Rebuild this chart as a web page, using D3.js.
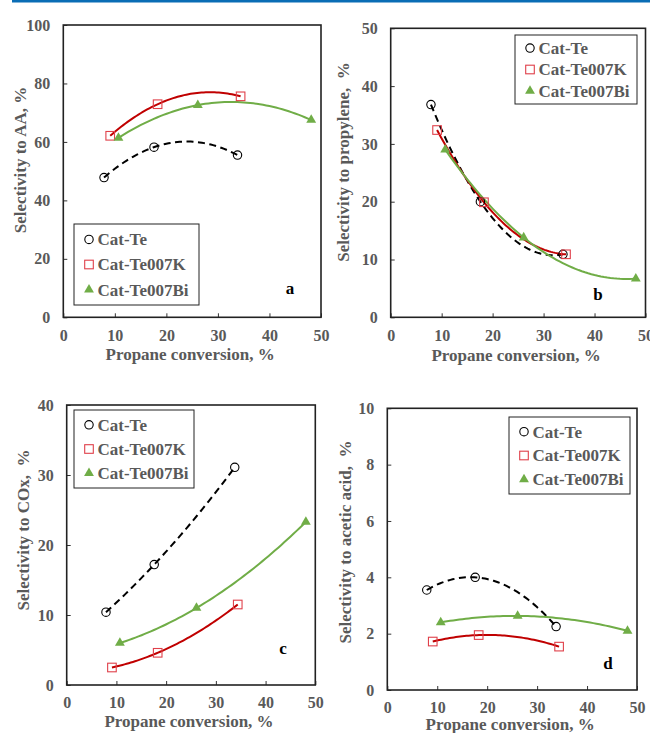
<!DOCTYPE html>
<html>
<head>
<meta charset="utf-8">
<script src="https://cdn.jsdelivr.net/npm/d3@7"></script>
<style>
  body { margin: 0; background: #fff; }
  svg { display: block; }
  svg text { font-family: "Liberation Serif", "Times New Roman", Times, serif !important; font-weight: bold; }
</style>
</head>
<body>
<script>
// propane conversion (%) for each catalyst
const convTe = [7.9, 17.6, 33.8];
const convK = [9.1, 18.3, 34.4];
const convBi = [10.7, 26.1, 48.1];

// selectivities (%)
const aaTe = [47.8, 58.2, 55.5];
const aaK = [62.1, 72.9, 75.6];
const aaBi = [61.4, 72.6, 67.5];

const propTe = [36.8, 20.0, 10.9];
const propK = [32.4, 19.9, 10.9];
const propBi = [29.0, 13.8, 6.7];

const coxTe = [10.4, 17.2, 31.1];
const coxK = [2.5, 4.6, 11.5];
const coxBi = [6.0, 11.0, 23.3];

const acTe = [3.55, 4.0, 2.25];
const acK = [1.72, 1.95, 1.54];
const acBi = [2.4, 2.63, 2.1];

const seriesNames = ["Cat-Te", "Cat-Te007K", "Cat-Te007Bi"];
const xTicks = [0, 10, 20, 30, 40, 50];

const W = 650, H = 733;
const grey = "#595959";

const svg = d3.select("body").append("svg")
    .attr("width", W)
    .attr("height", H);

svg.append("rect")
    .attr("x", 12).attr("y", 0)
    .attr("width", W - 12).attr("height", 2.5)
    .attr("fill", "#0a6db5");

const panels = [
  { letter: "a", ytitle: "Selectivity to AA, %", ymax: 100, ystep: 20,
    box: [63.3, 25, 321, 317.3], ys: [aaTe, aaK, aaBi],
    ytx: 20, yty: 160, xty: 354, legend: [74, 224, 125, 81], lab: [290, 288] },
  { letter: "b", ytitle: "Selectivity to propylene,  %", ymax: 50, ystep: 10,
    box: [390.7, 28.3, 645.5, 317.3], ys: [propTe, propK, propBi],
    ytx: 343, yty: 162, xty: 355, legend: [515, 35, 122, 69], lab: [598, 294] },
  { letter: "c", ytitle: "Selectivity to COx,  %", ymax: 40, ystep: 10,
    box: [66.7, 405, 315.3, 685], ys: [coxTe, coxK, coxBi],
    ytx: 23, yty: 530, xty: 721, legend: [74, 410, 120, 78], lab: [283, 648] },
  { letter: "d", ytitle: "Selectivity to acetic acid,  %", ymax: 10, ystep: 2,
    box: [387.3, 408.3, 637, 690], ys: [acTe, acK, acBi],
    ytx: 345, yty: 542, xty: 724, legend: [509, 417, 121, 77], lab: [608, 663] }
];

const convs = [convTe, convK, convBi];
const styles = [
  { stroke: "#000", dash: "7,4.5", marker: "circle", mcol: "#000" },
  { stroke: "#c00000", dash: null, marker: "square", mcol: "#e0404a" },
  { stroke: "#70ad47", dash: null, marker: "triangle", mcol: "#70ad47" }
];

// quadratic trendline through the three points (Lagrange form)
function quad(xs, ys) {
  return function(t) {
    let s = 0;
    for (let i = 0; i < 3; i++) {
      let p = ys[i];
      for (let j = 0; j < 3; j++) if (j != i) p *= (t - xs[j]) / (xs[i] - xs[j]);
      s += p;
    }
    return s;
  };
}

function marker(g, type, col, cx, cy) {
  if (type == "circle") {
    g.append("circle").attr("cx", cx).attr("cy", cy).attr("r", 4.2)
      .attr("fill", "none").attr("stroke", col).attr("stroke-width", 1.1);
  } else if (type == "square") {
    g.append("rect").attr("x", cx - 4.3).attr("y", cy - 4.3)
      .attr("width", 8.6).attr("height", 8.6)
      .attr("fill", "none").attr("stroke", col).attr("stroke-width", 1.1);
  } else {
    g.append("path").attr("d", d3.symbol(d3.symbolTriangle, 42)())
      .attr("transform", "translate(" + cx + "," + cy + ")")
      .attr("fill", col);
  }
}

panels.forEach(function(p) {
  const [x0, y0, x1, y1] = p.box;
  const x = d3.scaleLinear().domain([0, 50]).range([x0, x1]);
  const y = d3.scaleLinear().domain([0, p.ymax]).range([y1, y0]);
  const g = svg.append("g");

  const yax = g.append("g")
      .attr("transform", "translate(" + x0 + ",0)")
      .call(d3.axisLeft(y).tickValues(d3.range(0, p.ymax + 0.001, p.ystep))
        .tickSize(-4).tickPadding(13));
  const xax = g.append("g")
      .attr("transform", "translate(0," + y1 + ")")
      .call(d3.axisBottom(x).tickValues(xTicks).tickSize(-4).tickPadding(12));
  [yax, xax].forEach(function(a) {
    a.attr("font-size", 16);
    a.select(".domain").remove();
    a.selectAll("line").attr("stroke", "#333");
    a.selectAll("text").attr("fill", grey);
  });

  // lines
  p.ys.forEach(function(ys, k) {
    const xs = convs[k];
    const f = quad(xs, ys);
    const samples = d3.range(0, 61).map((i) => xs[0] + (xs[2] - xs[0]) * i / 60);
    g.append("path")
      .attr("d", d3.line().x((t) => x(t)).y((t) => y(f(t)))(samples))
      .attr("fill", "none")
      .attr("stroke", styles[k].stroke)
      .attr("stroke-width", 2)
      .attr("stroke-dasharray", styles[k].dash);
  });

  // markers
  p.ys.forEach(function(ys, k) {
    ys.forEach(function(v, i) {
      marker(g, styles[k].marker, styles[k].mcol, x(convs[k][i]), y(v));
    });
  });

  // frame
  g.append("rect")
      .attr("x", x0).attr("y", y0)
      .attr("width", x1 - x0).attr("height", y1 - y0)
      .attr("fill", "none").attr("stroke", "#222").attr("stroke-width", 1.6);

  // axis titles
  g.append("text")
      .attr("x", (x0 + x1) / 2 - 2).attr("y", p.xty)
      .attr("dy", "0.35em")
      .attr("text-anchor", "middle")
      .attr("fill", grey).attr("font-size", 17)
      .text("Propane conversion, %");
  g.append("text")
      .attr("transform", "translate(" + p.ytx + "," + p.yty + ") rotate(-90)")
      .attr("dy", "0.35em")
      .attr("text-anchor", "middle")
      .attr("fill", grey).attr("font-size", 17)
      .style("white-space", "pre")
      .text(p.ytitle);

  // legend
  const [lx, ly, lw, lh] = p.legend;
  g.append("rect")
      .attr("x", lx).attr("y", ly).attr("width", lw).attr("height", lh)
      .attr("fill", "#fff").attr("stroke", "#222").attr("stroke-width", 1);
  seriesNames.forEach(function(name, k) {
    const ry = ly + lh * (0.19 + 0.31 * k);
    marker(g, styles[k].marker, styles[k].mcol, lx + 15, ry);
    g.append("text")
        .attr("x", lx + 23.5).attr("y", ry)
        .attr("dy", "0.35em")
        .attr("fill", grey).attr("font-size", 17)
        .text(name);
  });

  // panel letter
  g.append("text")
      .attr("x", p.lab[0]).attr("y", p.lab[1])
      .attr("dy", "0.35em")
      .attr("text-anchor", "middle")
      .attr("fill", "#000").attr("font-size", 17)
      .text(p.letter);
});
</script>
</body>
</html>
